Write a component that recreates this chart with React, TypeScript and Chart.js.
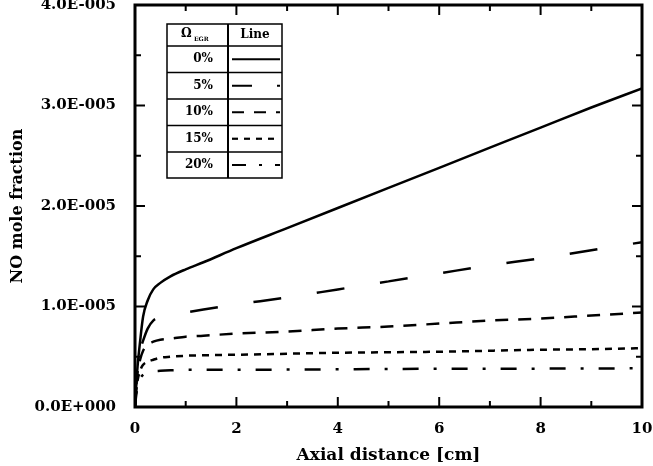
import React, { useEffect, useRef } from "react";
import { Chart, registerables } from "chart.js";

Chart.register(...registerables);

// Axial distance [cm]
const axialDistance = [0, 0.02, 0.05, 0.1, 0.16, 0.25, 0.36, 0.5, 0.7, 1, 1.35, 2, 3, 4, 5, 6, 7, 8, 9, 10];

// NO mole fraction, in units of 1E-005
const egr0 = [0, 0.2, 0.4, 0.65, 0.9, 1.06, 1.17, 1.235, 1.3, 1.37, 1.44, 1.58, 1.78, 1.98, 2.18, 2.38, 2.58, 2.78, 2.98, 3.17];
const egr5 = [0, 0.22, 0.42, 0.56, 0.66, 0.78, 0.86, 0.89, 0.91, 0.94, 0.97, 1.02, 1.09, 1.17, 1.25, 1.33, 1.41, 1.48, 1.56, 1.64];
const egr10 = [0, 0.18, 0.34, 0.47, 0.56, 0.62, 0.65, 0.67, 0.68, 0.7, 0.71, 0.73, 0.75, 0.78, 0.8, 0.83, 0.86, 0.88, 0.91, 0.94];
const egr15 = [0, 0.13, 0.26, 0.36, 0.42, 0.45, 0.47, 0.49, 0.5, 0.51, 0.515, 0.52, 0.53, 0.54, 0.545, 0.55, 0.56, 0.57, 0.575, 0.585];
const egr20 = [0, 0.1, 0.2, 0.28, 0.32, 0.34, 0.355, 0.36, 0.365, 0.37, 0.37, 0.37, 0.372, 0.375, 0.378, 0.38, 0.38, 0.382, 0.383, 0.385];

const seriesLabels = ["0%", "5%", "10%", "15%", "20%"];
const seriesValues = [egr0, egr5, egr10, egr15, egr20];
const plotDashes = [[], [28, 36], [13, 10], [7, 6], [16, 15, 3, 15]];
const legendDashes = [[], [20, 25], [12, 10], [6, 6], [14, 13, 3, 13]];

const xTicks = [0, 2, 4, 6, 8, 10];
const yTicks = [0, 1, 2, 3, 4];
const xTitle = "Axial distance [cm]";
const yTitle = "NO mole fraction";

const FONT = "'DejaVu Serif', serif";

const framePlugin = {
  id: "frameAndTable",
  afterDraw(chart: any) {
    const { ctx, chartArea: a } = chart;
    const xs = chart.scales.x;
    const ys = chart.scales.y;
    ctx.save();
    ctx.strokeStyle = "#000";
    ctx.lineCap = "butt";
    const seg = (x1: number, y1: number, x2: number, y2: number) => {
      ctx.beginPath();
      ctx.moveTo(x1, y1);
      ctx.lineTo(x2, y2);
      ctx.stroke();
    };
    ctx.lineWidth = 2;
    for (let v = xs.min; v <= xs.max + 1e-9; v += 1) {
      const px = xs.getPixelForValue(v);
      const len = Math.round(v) % 2 === 0 ? 10 : 6;
      seg(px, a.bottom, px, a.bottom - len);
      seg(px, a.top, px, a.top + len);
    }
    for (let v = ys.min; v <= ys.max + 1e-9; v += 0.5) {
      const py = ys.getPixelForValue(v);
      const len = Math.abs(v - Math.round(v)) < 1e-6 ? 10 : 6;
      seg(a.left, py, a.left + len, py);
      seg(a.right, py, a.right - len, py);
    }
    ctx.lineWidth = 3;
    ctx.strokeRect(a.left, a.top, a.right - a.left, a.bottom - a.top);

    // legend table
    const L = 167, M = 228, R = 282;
    const rows = [24, 46, 72.5, 99, 125.5, 152, 178];
    ctx.fillStyle = "#fff";
    ctx.fillRect(L, rows[0], R - L, rows[rows.length - 1] - rows[0]);
    ctx.lineWidth = 1.5;
    ctx.strokeRect(L, rows[0], R - L, rows[rows.length - 1] - rows[0]);
    for (let i = 1; i < rows.length - 1; i++) seg(L, rows[i], R, rows[i]);
    ctx.lineWidth = 2;
    seg(M, rows[0], M, rows[rows.length - 1]);

    ctx.fillStyle = "#000";
    ctx.textBaseline = "middle";
    // header
    const hy = (rows[0] + rows[1]) / 2;
    ctx.font = `bold 12px ${FONT}`;
    ctx.textAlign = "left";
    ctx.fillText("Ω", 181, hy - 1);
    ctx.font = `bold 6px ${FONT}`;
    ctx.fillText("EGR", 194, hy + 4);
    ctx.font = `bold 12px ${FONT}`;
    ctx.textAlign = "center";
    ctx.fillText("Line", (M + R) / 2, hy);
    for (let i = 0; i < seriesLabels.length; i++) {
      const cy = (rows[i + 1] + rows[i + 2]) / 2;
      ctx.textAlign = "right";
      ctx.font = `bold 12px ${FONT}`;
      ctx.fillText(seriesLabels[i], 213, cy);
      ctx.lineWidth = 2.2;
      ctx.setLineDash(legendDashes[i]);
      seg(232, cy, 280, cy);
      ctx.setLineDash([]);
    }
    ctx.restore();
  },
};

export default function App() {
  const ref = useRef<HTMLCanvasElement>(null);
  useEffect(() => {
    const canvas = ref.current!;
    const chart = new Chart(canvas, {
      type: "line",
      data: {
        datasets: seriesValues.map((vals, i) => ({
          label: seriesLabels[i],
          data: axialDistance.map((x, j) => ({ x, y: vals[j] })),
          borderColor: "#000",
          borderWidth: 2.5,
          borderDash: plotDashes[i],
          borderCapStyle: "butt",
          pointRadius: 0,
          fill: false,
          cubicInterpolationMode: "monotone",
        })),
      },
      options: {
        animation: false,
        responsive: false,
        maintainAspectRatio: false,
        layout: { padding: { left: 0, right: 11, top: 5, bottom: 0 } },
        plugins: { legend: { display: false }, tooltip: { enabled: false } },
        scales: {
          x: {
            type: "linear",
            min: 0,
            max: 10,
            grid: { display: false },
            border: { display: false },
            afterBuildTicks: (s: any) => {
              s.ticks = xTicks.map((v) => ({ value: v }));
            },
            ticks: {
              color: "#000",
              padding: 5,
              maxRotation: 0,
              font: { family: FONT, size: 15, weight: "bold" },
            },
            title: {
              display: true,
              text: xTitle,
              color: "#000",
              padding: { top: 0, bottom: 0 },
              font: { family: FONT, size: 17, weight: "bold" },
            },
            afterFit: (s: any) => {
              s.height = 59;
              s.paddingLeft = 0;
              s.paddingRight = 0;
            },
          },
          y: {
            type: "linear",
            min: 0,
            max: 4,
            grid: { display: false },
            border: { display: false },
            afterBuildTicks: (s: any) => {
              s.ticks = yTicks.map((v) => ({ value: v }));
            },
            ticks: {
              color: "#000",
              padding: 11,
              font: { family: FONT, size: 15, weight: "bold" },
              callback: (v: any) => (Number(v) === 0 ? "0.0E+000" : `${Number(v).toFixed(1)}E-005`),
            },
            title: {
              display: true,
              text: yTitle,
              color: "#000",
              padding: { top: 8, bottom: 0 },
              font: { family: FONT, size: 16, weight: "bold" },
            },
            afterFit: (s: any) => {
              s.width = 135;
              s.paddingTop = 0;
              s.paddingBottom = 0;
            },
          },
        },
      },
      plugins: [framePlugin],
    } as any);
    return () => chart.destroy();
  }, []);
  return (
    <div style={{ position: "absolute", left: 0, top: 0, width: 653, height: 466, background: "#fff" }}>
      <canvas ref={ref} width={653} height={466} style={{ display: "block" }} />
    </div>
  );
}
